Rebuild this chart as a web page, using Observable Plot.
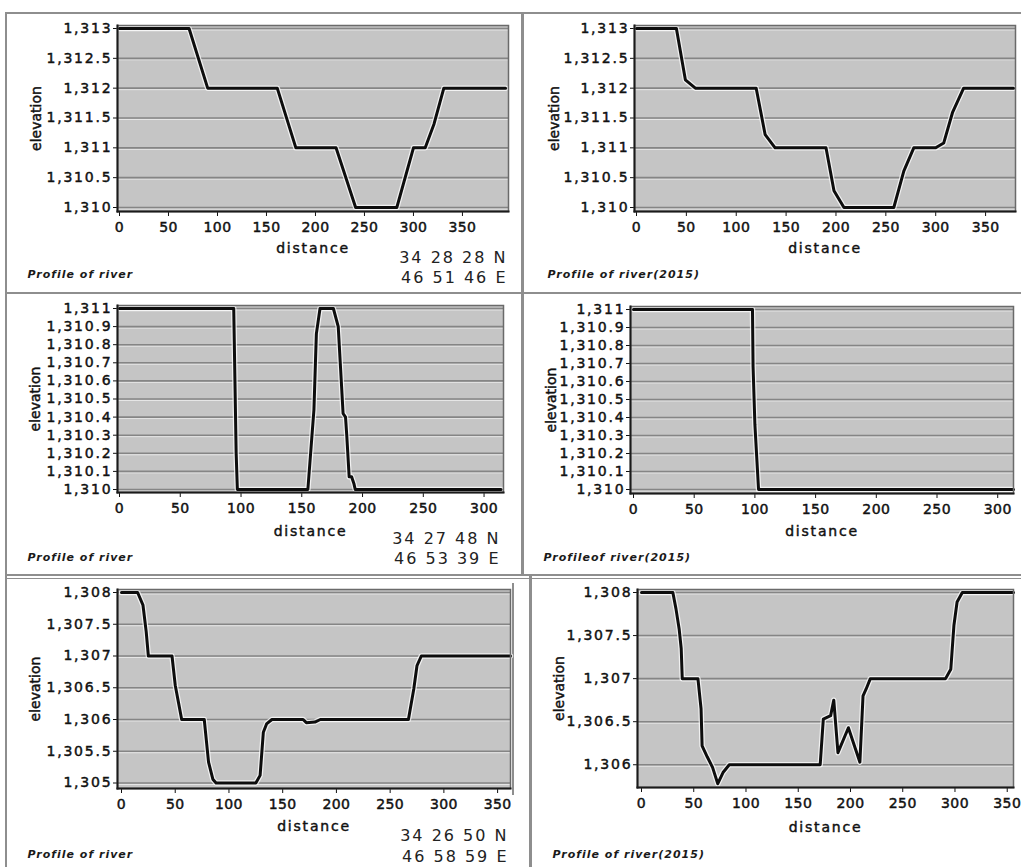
<!DOCTYPE html>
<html>
<head>
<meta charset="utf-8">
<script src="https://cdn.jsdelivr.net/npm/d3@7"></script>
<script src="https://cdn.jsdelivr.net/npm/@observablehq/plot@0.6"></script>
<style>
  body { margin: 0; background: #fff; }
  #root { position: relative; width: 1021px; height: 867px; overflow: hidden; background: #fff; }
  .cell { position: absolute; }
  .cell svg { display: block; overflow: visible; }
  .cell svg g[aria-label$="tick label"] text { stroke: #111; stroke-width: 0.45px; }
  .rule { position: absolute; background: #8e8e8e; }
</style>
</head>
<body>
<div id="root"></div>
<script>
// ---------------- DATA ----------------
const p1Distance  = [0, 71, 90, 161, 180, 221, 241, 283, 300, 312, 321, 331, 394];
const p1Elevation = [1313, 1313, 1312, 1312, 1311, 1311, 1310, 1310, 1311, 1311, 1311.4, 1312, 1312];

const p2Distance  = [0, 40, 49, 59, 120, 129, 139, 190, 198, 208, 258, 268, 278, 300, 308, 317, 328, 378];
const p2Elevation = [1313, 1313, 1312.14, 1312, 1312, 1311.22, 1311, 1311, 1310.28, 1310, 1310, 1310.61, 1311, 1311, 1311.08, 1311.6, 1312, 1312];

const p3Distance  = [0, 94, 95, 96, 97, 155, 160, 162, 165, 176, 180, 182, 184, 186, 187, 189, 191, 193, 194, 314];
const p3Elevation = [1311, 1311, 1310.6, 1310.2, 1310, 1310, 1310.44, 1310.86, 1311, 1311, 1310.9, 1310.66, 1310.42, 1310.4, 1310.3, 1310.07, 1310.07, 1310.03, 1310, 1310];

const p4Distance  = [0, 98, 98.5, 100, 101.5, 103, 313];
const p4Elevation = [1311, 1311, 1310.68, 1310.36, 1310.18, 1310, 1310];

const p5Distance  = [0, 15, 20, 23, 25, 47, 50, 53, 56, 77, 81, 85, 88, 125, 129, 132, 135, 140, 169, 172, 180, 185, 267, 272, 275, 279, 362];
const p5Elevation = [1308, 1308, 1307.8, 1307.38, 1307, 1307, 1306.54, 1306.27, 1306, 1306, 1305.33, 1305.06, 1305, 1305, 1305.12, 1305.8, 1305.93, 1306, 1306, 1305.95, 1305.96, 1306, 1306, 1306.48, 1306.85, 1307, 1307];

const p6Distance  = [0, 30, 33, 36, 38, 39, 54, 57, 58, 63, 68, 73, 78, 84, 171, 174, 181, 184, 188, 198, 209, 212, 215, 219, 291, 296, 299, 302, 307, 356];
const p6Elevation = [1308, 1308, 1307.81, 1307.58, 1307.35, 1307, 1307, 1306.65, 1306.22, 1306.09, 1305.97, 1305.78, 1305.91, 1306, 1306, 1306.53, 1306.57, 1306.75, 1306.14, 1306.43, 1306.03, 1306.8, 1306.88, 1307, 1307, 1307.11, 1307.62, 1307.89, 1308, 1308];

const xTicks350 = [0, 50, 100, 150, 200, 250, 300, 350];
const xTicks300 = [0, 50, 100, 150, 200, 250, 300];
const yTicksTop = [1310, 1310.5, 1311, 1311.5, 1312, 1312.5, 1313];
const yTicksMid = [1310, 1310.1, 1310.2, 1310.3, 1310.4, 1310.5, 1310.6, 1310.7, 1310.8, 1310.9, 1311];
const yTicksBotL = [1305, 1305.5, 1306, 1306.5, 1307, 1307.5, 1308];
const yTicksBotR = [1306, 1306.5, 1307, 1307.5, 1308];

const xLabel = "distance";
const yLabel = "elevation";
const captions = ["Profile of river", "Profile of river(2015)", "Profile of river", "Profileof river(2015)", "Profile of river", "Profile of river(2015)"];
const coordsN = ["34 28 28 N", null, "34 27 48 N", null, "34 26 50 N", null];
const coordsE = ["46 51 46 E", null, "46 53 39 E", null, "46 58 59 E", null];

// ---------------- LAYOUT ----------------
const panels = [
  {dist: p1Distance, elev: p1Elevation, xTicks: xTicks350, yTicks: yTicksTop,
   left: 0, top: 0, w: 521, h: 293, mL: 117, mR: 13, mT: 25, mB: 82,
   xDomain: [0, 397], yDomain: [1310, 1313], iL: 2, iT: 3, iB: 4,
   distDy: 41, elevDx: -77, capDx: -90, capDy: 66, coordDx: -1, nDy: 51, eDy: 71},
  {dist: p2Distance, elev: p2Elevation, xTicks: xTicks350, yTicks: yTicksTop,
   left: 521, top: 0, w: 500, h: 293, mL: 113, mR: 6, mT: 25, mB: 82,
   xDomain: [0, 380], yDomain: [1310, 1313], iL: 2, iT: 3, iB: 4,
   distDy: 41, elevDx: -76, capDx: -87, capDy: 66},
  {dist: p3Distance, elev: p3Elevation, xTicks: xTicks300, yTicks: yTicksMid,
   left: 0, top: 293, w: 521, h: 282, mL: 117, mR: 18, mT: 12, mB: 83,
   xDomain: [0, 316], yDomain: [1310, 1311], iL: 2, iT: 3, iB: 3,
   distDy: 43, elevDx: -78, capDx: -90, capDy: 68, coordDx: -3, nDy: 51, eDy: 71},
  {dist: p4Distance, elev: p4Elevation, xTicks: xTicks300, yTicks: yTicksMid,
   left: 521, top: 293, w: 500, h: 282, mL: 109, mR: 8, mT: 13, mB: 82,
   xDomain: [0, 313], yDomain: [1310, 1311], iL: 3, iT: 3, iB: 4,
   distDy: 42, elevDx: -75, capDx: -87, capDy: 67},
  {dist: p5Distance, elev: p5Elevation, xTicks: xTicks350, yTicks: yTicksBotL,
   left: 0, top: 575, w: 521, h: 292, mL: 117, mR: 11, mT: 14, mB: 79,
   xDomain: [0, 362], yDomain: [1305, 1308], iL: 4, iT: 3, iB: 5.5,
   distDy: 42, elevDx: -78, capDx: -90, capDy: 69, coordDx: -2, nDy: 52, eDy: 73},
  {dist: p6Distance, elev: p6Elevation, xTicks: xTicks350, yTicks: yTicksBotR,
   left: 521, top: 575, w: 500, h: 292, mL: 116, mR: 8, mT: 14, mB: 80,
   xDomain: [0, 356], yDomain: [1305.736, 1308], iL: 4, iT: 3, iB: 0,
   distDy: 44, elevDx: -74, capDx: -85, capDy: 70}
];

const root = document.getElementById("root");

// panel separator lines
const rules = [
  {x: 5, y: 12, w: 1016, h: 2},
  {x: 5, y: 12, w: 2, h: 855},
  {x: 5, y: 292, w: 1016, h: 2},
  {x: 5, y: 574, w: 1016, h: 2},
  {x: 5, y: 578, w: 1016, h: 1},
  {x: 521, y: 12, w: 3, h: 563},
  {x: 512, y: 583, w: 2, h: 212},
  {x: 529, y: 576, w: 3, h: 291}
];
rules.forEach(r => {
  const d = document.createElement("div");
  d.className = "rule";
  Object.assign(d.style, {left: r.x + "px", top: r.y + "px", width: r.w + "px", height: r.h + "px"});
  root.appendChild(d);
});

panels.forEach((p, i) => {
  const data = p.dist.map((d, k) => ({distance: d, elevation: p.elev[k]}));
  const marks = [
    Plot.frame({fill: "#c5c5c5"}),
    Plot.ruleY(p.yTicks, {stroke: "#f4f4f4", strokeWidth: 1, dy: 1.5, strokeOpacity: 0.7}),
    Plot.ruleY(p.yTicks, {stroke: "#858585", strokeWidth: 1.6}),
    Plot.line(data, {x: "distance", y: "elevation", stroke: "#fff", strokeWidth: 5.5, strokeOpacity: 0.75}),
    Plot.line(data, {x: "distance", y: "elevation", stroke: "#0d0d0d", strokeWidth: 3}),
    Plot.frame({stroke: "#6a6a6a", strokeWidth: 1.5}),
    Plot.frame({anchor: "left", stroke: "#1a1a1a", strokeWidth: 2}),
    Plot.frame({anchor: "bottom", stroke: "#1a1a1a", strokeWidth: 2}),
    Plot.text([xLabel], {frameAnchor: "bottom", dy: p.distDy, lineAnchor: "bottom", text: d => d,
      fontSize: 14, fill: "#111"}),
    Plot.text([yLabel], {frameAnchor: "left", dx: p.elevDx, rotate: -90, lineAnchor: "bottom", textAnchor: "middle",
      text: d => d, fontSize: 14, fill: "#111"}),
    Plot.text([captions[i]], {frameAnchor: "bottom-left", dx: p.capDx, dy: p.capDy, lineAnchor: "bottom", textAnchor: "start",
      text: d => d, fontSize: 11, fontStyle: "italic", fontWeight: "bold", fill: "#1a1a1a"})
  ];
  if (coordsN[i]) {
    marks.push(Plot.text([coordsN[i]], {frameAnchor: "bottom-right", dx: p.coordDx, dy: p.nDy, lineAnchor: "bottom", textAnchor: "end",
      text: d => d, fontSize: 16, fill: "#222"}));
    marks.push(Plot.text([coordsE[i]], {frameAnchor: "bottom-right", dx: p.coordDx, dy: p.eDy, lineAnchor: "bottom", textAnchor: "end",
      text: d => d, fontSize: 16, fill: "#222"}));
  }
  const svg = Plot.plot({
    width: p.w, height: p.h,
    marginLeft: p.mL, marginRight: p.mR, marginTop: p.mT, marginBottom: p.mB,
    style: {fontFamily: "DejaVu Sans", fontSize: "14px", color: "#111", background: "transparent"},
    x: {domain: p.xDomain, insetLeft: p.iL, insetRight: 0, ticks: p.xTicks, tickSize: 5, tickPadding: 6, label: null, tickFormat: d3.format("d")},
    y: {domain: p.yDomain, insetTop: p.iT, insetBottom: p.iB, ticks: p.yTicks, tickSize: 4, tickPadding: 1, label: null, tickFormat: d3.format(",")},
    marks
  });
  svg.querySelectorAll('g[aria-label="y-axis tick label"]').forEach(g => g.setAttribute("letter-spacing", "1.8px"));
  svg.querySelectorAll('g[aria-label="x-axis tick label"]').forEach(g => g.setAttribute("letter-spacing", "0.4px"));
  // style the label texts, found by their content
  svg.querySelectorAll("text").forEach(t => {
    const s = t.textContent;
    if (s === xLabel) {
      t.setAttribute("letter-spacing", "1.8px");
      t.setAttribute("stroke", "#111"); t.setAttribute("stroke-width", "0.45");
    } else if (s === yLabel) {
      t.setAttribute("stroke", "#111"); t.setAttribute("stroke-width", "0.45");
    } else if (s === captions[i]) {
      t.setAttribute("letter-spacing", "1px");
    } else if (s === coordsN[i] || s === coordsE[i]) {
      t.setAttribute("letter-spacing", "2px");
    }
  });
  const cell = document.createElement("div");
  cell.className = "cell";
  cell.style.left = p.left + "px";
  cell.style.top = p.top + "px";
  cell.appendChild(svg);
  root.appendChild(cell);
});
</script>
</body>
</html>
